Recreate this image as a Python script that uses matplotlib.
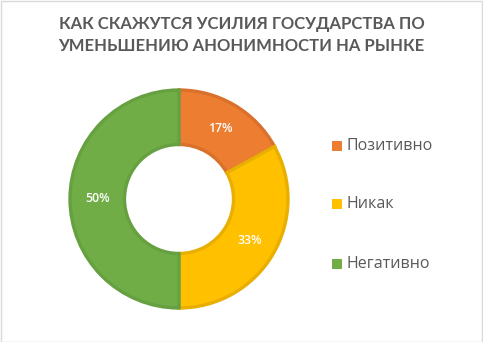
import matplotlib.pyplot as plt
from matplotlib.patches import Rectangle

title = 'КАК СКАЖУТСЯ УСИЛИЯ ГОСУДАРСТВА ПО\nУМЕНЬШЕНИЮ АНОНИМНОСТИ НА РЫНКЕ'
categories = ['Позитивно', 'Никак', 'Негативно']
shares = [17, 33, 50]
colors = ['#ED7D31', '#FFC000', '#70AD47']
edges = ['#D9702B', '#E8AF00', '#66A040']

W, H = 483, 342
fig = plt.figure(figsize=(W / 100, H / 100), dpi=100)
fig.patches.append(Rectangle((0.5 / W, 0.5 / H), 1 - 1.5 / W, 1 - 1.5 / H,
                             transform=fig.transFigure, fill=False,
                             edgecolor='#D9D9D9', linewidth=1))

# donut centre (179, 199) px, outer radius 109 px
cx, cy, r = 179, 199, 109
lim = 1.1
ax = fig.add_axes([(cx - r * lim) / W, (H - cy - r * lim) / H,
                   2 * r * lim / W, 2 * r * lim / H])
wedges, texts, autotexts = ax.pie(
    shares, colors=colors, startangle=90, counterclock=False,
    autopct='%1.0f%%', pctdistance=0.75,
    wedgeprops=dict(width=0.5, linewidth=2.4),
    textprops=dict(color='white', fontsize=8.8, family='Open Sans',
                   fontweight='semibold'))
for w, ec in zip(wedges, edges):
    w.set_edgecolor(ec)
ax.set_xlim(-lim, lim)
ax.set_ylim(-lim, lim)
ax.set_aspect('equal')
ax.axis('off')

fig.text(0.5, 1 - 35 / H, title, ha='center', va='center', fontsize=12,
         fontweight='bold', color='#595959', family='Lato', linespacing=1.5)

ys = [146, 204, 264]
for name, c, y in zip(categories, colors, ys):
    fig.patches.append(Rectangle((332 / W, 1 - (y + 5) / H), 10 / W, 10 / H,
                                 transform=fig.transFigure, facecolor=c,
                                 edgecolor='none'))
    fig.text(347 / W, 1 - y / H, name, ha='left', va='center', fontsize=11.5,
             color='#595959', family='Open Sans')

fig.savefig('out.png', dpi=100)
